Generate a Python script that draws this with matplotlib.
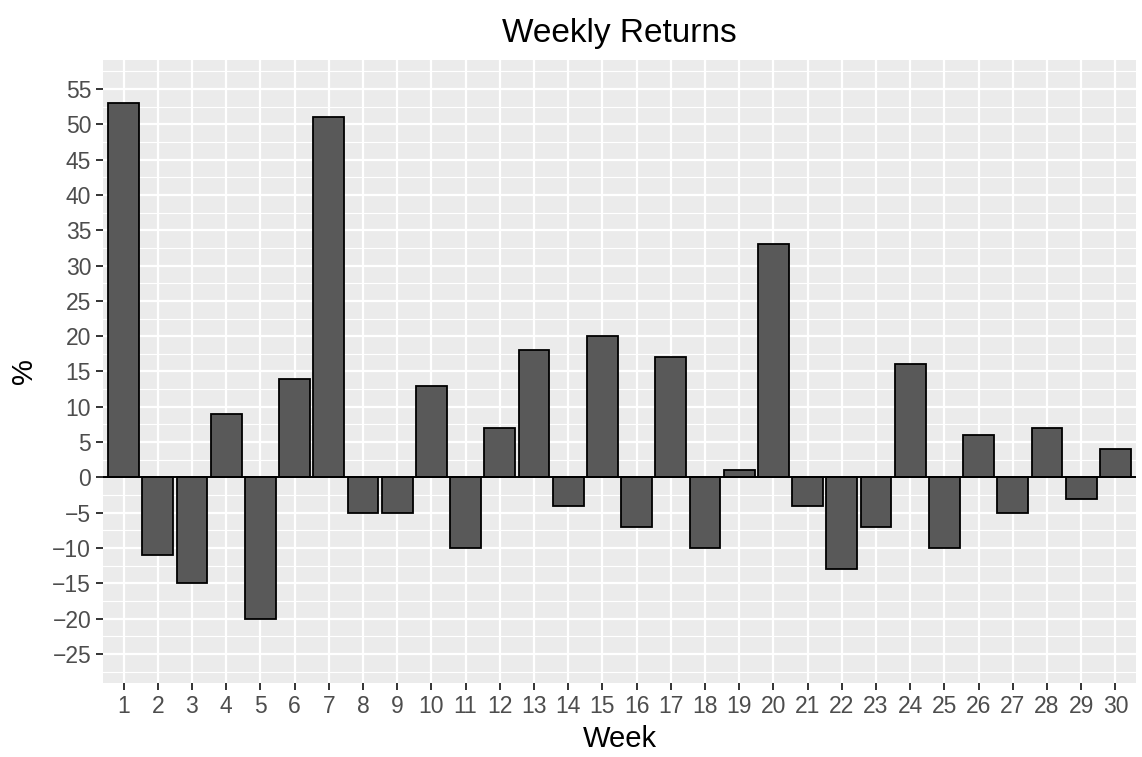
import matplotlib.pyplot as plt
import numpy as np

weeks = list(range(1, 31))
returns = [53, -11, -15, 9, -20, 14, 51, -5, -5, 13,
           -10, 7, 18, -4, 20, -7, 17, -10, 1, 33,
           -4, -13, -7, 16, -10, 6, -5, 7, -3, 4]
y_ticks = list(range(-25, 60, 5))

plt.rcParams['font.family'] = ['Liberation Sans', 'DejaVu Sans']

fig = plt.figure(figsize=(11.42, 7.57), dpi=100)
ax = fig.add_axes([0.0902, 0.0978, 0.9045, 0.8229])

ax.set_facecolor('#EBEBEB')
for s in ax.spines.values():
    s.set_visible(False)

ax.bar(weeks, returns, width=0.9, color='#595959', edgecolor='black',
       linewidth=1.3, zorder=3)
ax.axhline(0, color='black', linewidth=1.4, zorder=4)

ax.set_xlim(0.4, 30.6)
ax.set_ylim(-29.1, 59.1)
ax.set_xticks(weeks)
ax.set_xticklabels([str(w) for w in weeks])
ax.set_yticks(y_ticks)
ax.set_yticklabels([str(t).replace('-', '\u2212') for t in y_ticks])
ax.set_yticks(np.arange(-27.5, 59, 5), minor=True)

ax.grid(which='major', color='white', linewidth=1.6, zorder=0)
ax.grid(which='minor', axis='y', color='white', linewidth=0.8, zorder=0)
ax.set_axisbelow(True)

ax.tick_params(axis='both', which='major', length=5, width=1.4,
               color='#333333', labelcolor='#4D4D4D', labelsize=16.5, pad=3.5)
ax.tick_params(axis='both', which='minor', length=0)

ax.set_xlabel('Week', fontsize=21, color='black', labelpad=5)
ax.set_ylabel('%', fontsize=21, color='black', labelpad=10)
ax.set_title('Weekly Returns', fontsize=24, color='black', pad=13)

fig.savefig('out.png', dpi=100)
